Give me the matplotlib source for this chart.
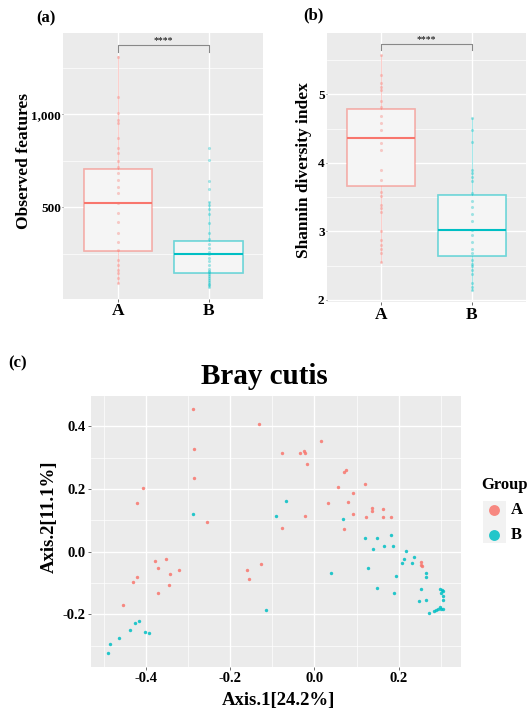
import numpy as np
import matplotlib
matplotlib.use('Agg')
import matplotlib.pyplot as plt
from matplotlib.patches import Rectangle

plt.rcParams['font.family'] = ['Liberation Serif', 'DejaVu Serif']
plt.rcParams['font.weight'] = 'bold'
plt.rcParams['axes.labelweight'] = 'bold'

W, H = 527, 711

groups = ['A', 'B']
colors = {'A': '#F8766D', 'B': '#00BFC4'}

# ---------------- (a) observed features
obs_A = [1310, 1095, 1005, 969, 952, 871, 817, 790, 751, 718, 683, 647, 611, 575,
         523, 468, 423, 360, 315, 270, 217, 190, 163, 145, 118, 91]
obs_B = [817, 754, 643, 597, 530, 510, 489, 464, 414, 360, 330, 300, 280, 260, 247,
         230, 210, 190, 170, 160, 150, 140, 130, 120, 110, 100, 90, 80, 73]
# whislo, q1, median, q3, whishi
obs_box = {'A': [91, 267, 523, 708, 1314], 'B': [73, 149, 247, 317, 530]}

# ---------------- (b) shannon
sha_A = [5.58, 5.28, 5.16, 5.11, 5.07, 4.90, 4.82, 4.68, 4.58, 4.48, 4.29, 4.19, 3.90,
         3.75, 3.58, 3.51, 3.39, 3.34, 3.29, 3.00, 2.88, 2.80, 2.75, 2.68, 2.56]
sha_B = [4.65, 4.48, 4.31, 3.90, 3.85, 3.79, 3.73, 3.56, 3.45, 3.35, 3.25, 3.15, 3.02,
         2.95, 2.85, 2.75, 2.68, 2.58, 2.53, 2.49, 2.44, 2.38, 2.25, 2.19, 2.15]
sha_box = {'A': [2.56, 3.66, 4.37, 4.78, 5.58], 'B': [2.15, 2.64, 3.02, 3.53, 4.65]}

# ---------------- (c) Bray curtis PCoA
pc_A_x = [-0.289, -0.131, -0.285, -0.285, -0.408, -0.420, -0.256, -0.379, -0.353, -0.372,
          -0.321, -0.342, -0.422, -0.430, -0.345, -0.372, -0.454, -0.159, -0.155, -0.127,
          0.016, -0.077, -0.034, -0.024, -0.022, -0.018, 0.071, 0.075, 0.055, 0.119,
          0.092, 0.032, 0.080, 0.136, 0.136, 0.163, 0.092, 0.123, 0.162, 0.183,
          -0.022, -0.078, 0.070, 0.253, 0.255, 0.252]
pc_A_y = [0.457, 0.409, 0.327, 0.236, 0.202, 0.154, 0.094, -0.030, -0.023, -0.052,
          -0.059, -0.072, -0.080, -0.096, -0.106, -0.132, -0.169, -0.057, -0.087, -0.039,
          0.353, 0.314, 0.315, 0.321, 0.314, 0.279, 0.255, 0.260, 0.207, 0.216,
          0.186, 0.154, 0.160, 0.139, 0.129, 0.135, 0.120, 0.110, 0.110, 0.112,
          0.114, 0.076, 0.073, -0.032, -0.046, -0.044]
pc_B_x = [-0.288, -0.416, -0.425, -0.437, -0.402, -0.393, -0.463, -0.484, -0.489, -0.116,
          -0.067, -0.092, 0.067, 0.121, 0.148, 0.181, 0.139, 0.166, 0.186, 0.217,
          0.236, 0.212, 0.208, 0.231, 0.039, 0.127, 0.194, 0.266, 0.266, 0.148,
          0.190, 0.253, 0.298, 0.302, 0.305, 0.301, 0.306, 0.305, 0.264, 0.249,
          0.298, 0.294, 0.301, 0.305, 0.288, 0.284, 0.272]
pc_B_y = [0.119, -0.222, -0.228, -0.249, -0.255, -0.261, -0.277, -0.296, -0.324, -0.185,
          0.161, 0.114, 0.104, 0.043, 0.045, 0.052, 0.010, 0.018, 0.018, 0.003,
          -0.016, -0.024, -0.035, -0.037, -0.067, -0.052, -0.078, -0.069, -0.082, -0.116,
          -0.132, -0.120, -0.119, -0.122, -0.124, -0.133, -0.142, -0.155, -0.153, -0.158,
          -0.177, -0.182, -0.183, -0.184, -0.186, -0.190, -0.196]


def px_axes(fig, left, top, right, bottom):
    return fig.add_axes([left / W, 1 - bottom / H, (right - left) / W, (bottom - top) / H])


def gg_style(ax):
    ax.set_facecolor('#EBEBEB')
    for s in ax.spines.values():
        s.set_visible(False)
    ax.grid(True, which='major', color='white', lw=1.0)
    ax.grid(True, which='minor', color='white', lw=0.5)
    ax.set_axisbelow(True)
    ax.tick_params(which='major', length=2, color='#555555', width=0.6, pad=1.5)
    ax.tick_params(which='minor', length=0)


def box_panel(ax, vals, box, ylim, yticks, yticklabels, yminor, ylabel, brk, lab_xy):
    gg_style(ax)
    ax.tick_params(axis='y', which='major', length=1, pad=0.5)
    stats = []
    for g in groups:
        lo, q1, med, q3, hi = box[g]
        stats.append(dict(whislo=lo, q1=q1, med=med, q3=q3, whishi=hi, fliers=[]))
    bp = ax.bxp(stats, positions=[1, 2], widths=0.75, patch_artist=True,
                showcaps=False, showfliers=False)
    for i, g in enumerate(groups):
        c = colors[g]
        bp['boxes'][i].set_facecolor('#F5F5F5')
        bp['boxes'][i].set_edgecolor(matplotlib.colors.to_rgba(c, 0.55))
        bp['boxes'][i].set_linewidth(1.2)
        bp['medians'][i].set_color(c)
        bp['medians'][i].set_linewidth(1.5)
        for w in bp['whiskers'][2 * i:2 * i + 2]:
            w.set_color(matplotlib.colors.to_rgba(c, 0.35))
            w.set_linewidth(0.8)
        ax.scatter(np.full(len(vals[i]), i + 1), vals[i], s=5, color=c, alpha=0.35,
                   lw=0, zorder=4)
    ax.set_xlim(0.4, 2.6)
    ax.set_ylim(*ylim)
    ax.set_xticks([1, 2])
    ax.set_xticklabels(groups, fontsize=12.5)
    ax.set_yticks(yticks)
    ax.set_yticklabels(yticklabels, fontsize=9.5)
    ax.set_yticks(yminor, minor=True)
    ax.set_ylabel(ylabel, fontsize=12.5, va='center')
    ax.yaxis.set_label_coords(*lab_xy)
    y0, y1, yt = brk
    ax.plot([1, 1, 2, 2], [y1, y0, y0, y1], color='#888888', lw=0.8, zorder=5)
    ax.text(1.5, yt, '****', ha='center', va='center', fontsize=7, weight='normal')


fig = plt.figure(figsize=(W / 100, H / 100), dpi=100)

ax_a = px_axes(fig, 63.3, 33.3, 263, 298.5)
box_panel(ax_a, [obs_A, obs_B], obs_box, (9.7, 1435), [500, 1000], ['500', '1,000'],
          [250, 750, 1250], 'Observed features', (1373, 1337, 1398),
          (-0.195, 0.52))

ax_b = px_axes(fig, 326.7, 33.3, 526, 301.7)
box_panel(ax_b, [sha_A, sha_B], sha_box, (1.975, 5.89), [2, 3, 4, 5], ['2', '3', '4', '5'],
          [2.5, 3.5, 4.5, 5.5], 'Shannin diversity index', (5.74, 5.64, 5.80),
          (-0.115, 0.49))

ax_c = px_axes(fig, 90.7, 396, 461, 667)
gg_style(ax_c)
ax_c.scatter(pc_A_x, pc_A_y, s=6, color=colors['A'], alpha=0.85, lw=0, label='A', zorder=3)
ax_c.scatter(pc_B_x, pc_B_y, s=6, color=colors['B'], alpha=0.85, lw=0, label='B', zorder=3)
ax_c.set_xlim(-0.531, 0.348)
ax_c.set_ylim(-0.368, 0.497)
ax_c.set_xticks([-0.4, -0.2, 0.0, 0.2])
ax_c.set_xticklabels(['-0.4', '-0.2', '0.0', '0.2'], fontsize=10.5)
ax_c.set_xticks([-0.5, -0.3, -0.1, 0.1, 0.3], minor=True)
ax_c.set_yticks([-0.2, 0.0, 0.2, 0.4])
ax_c.set_yticklabels(['-0.2', '0.0', '0.2', '0.4'], fontsize=10.5)
ax_c.set_yticks([-0.3, -0.1, 0.1, 0.3], minor=True)
ax_c.set_xlabel('Axis.1[24.2%]', fontsize=13.5)
ax_c.xaxis.set_label_coords(0.508, -0.094)
ax_c.set_ylabel('Axis.2[11.1%]', fontsize=13.5, va='center')
ax_c.yaxis.set_label_coords(-0.113, 0.555)

# legend
fig.patches.append(Rectangle((483 / W, 1 - 543 / H), 23 / W, 42 / H, transform=fig.transFigure,
                             facecolor='#F2F2F2', edgecolor='none', zorder=-1))
leg = ax_c.legend(title='Group', loc='upper left', bbox_to_anchor=(481 / W, 1 - 477 / H),
                  bbox_transform=fig.transFigure, frameon=False, markerscale=3.2,
                  fontsize=12, title_fontsize=12, handletextpad=0.3, labelspacing=0.55,
                  borderaxespad=0, borderpad=0, handlelength=1.5)
leg._legend_box.align = 'left'

fig.text(264 / W, 1 - 377 / H, 'Bray cutis', ha='center', va='center', fontsize=21)
fig.text(46 / W, 1 - 18 / H, '(a)', ha='center', va='center', fontsize=12)
fig.text(313 / W, 1 - 15 / H, '(b)', ha='center', va='center', fontsize=12)
fig.text(18 / W, 1 - 363 / H, '(c)', ha='center', va='center', fontsize=12)

fig.savefig('out.png', dpi=100)
